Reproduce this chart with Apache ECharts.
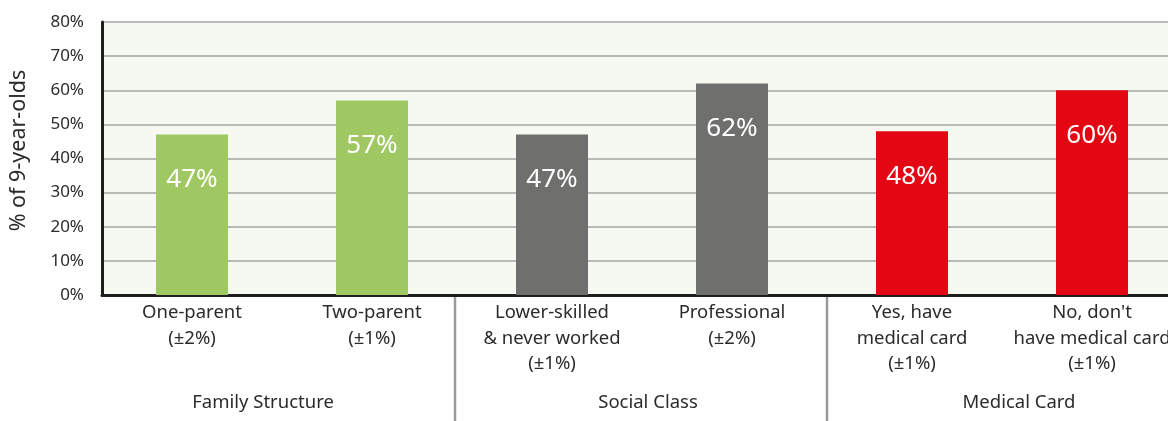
<!DOCTYPE html>
<html>
<head>
<meta charset="utf-8">
<script src="https://cdn.jsdelivr.net/npm/echarts@6/dist/echarts.min.js"></script>
<style>
  html, body { margin: 0; padding: 0; background: #fff; }
  #chart { width: 1168px; height: 421px; }
</style>
</head>
<body>
<div id="chart"></div>
<script>
// categories and values
const categories = [
  "One-parent\n(±2%)",
  "Two-parent\n(±1%)",
  "Lower-skilled\n& never worked\n(±1%)",
  "Professional\n(±2%)",
  "Yes, have\nmedical card\n(±1%)",
  "No, don't\nhave medical card\n(±1%)"
];
const values = [47, 57, 47, 62, 48, 60];
const barColors = ["#a0c862", "#a0c862", "#6f6f6e", "#6f6f6e", "#e30613", "#e30613"];
const groups = ["Family Structure", "Social Class", "Medical Card"];

const chart = echarts.init(document.getElementById("chart"));
const font = "'Noto Sans', sans-serif";
const txt = "#2b2b2b";

const option = {
  animation: false,
  textStyle: { fontFamily: font },
  grid: {
    left: 102, top: 22, width: 1080, bottom: 126,
    outerBoundsMode: "none",
    show: true, backgroundColor: "#f6f8f2", borderWidth: 0
  },
  xAxis: {
    type: "category",
    data: categories,
    axisLine: { lineStyle: { color: "#1e1e1e", width: 3 } },
    axisTick: { show: false },
    axisLabel: {
      interval: 0, margin: 5, color: txt, fontSize: 18.5,
      lineHeight: 25.5, fontFamily: font, verticalAlign: "top"
    }
  },
  yAxis: {
    type: "value",
    min: 0, max: 80, interval: 10,
    name: "% of 9-year-olds",
    nameLocation: "middle",
    nameGap: 72,
    nameTextStyle: { fontSize: 21.5, color: txt, fontFamily: font, padding: [0, 0, 0, 16] },
    axisLine: { show: true, lineStyle: { color: "#1e1e1e", width: 3 } },
    axisTick: { show: false },
    axisLabel: { formatter: "{value}%", margin: 18, fontSize: 17, color: txt, fontFamily: font },
    splitLine: { lineStyle: { color: "#a6a6a6", width: 1.5 } }
  },
  series: [{
    type: "bar",
    barWidth: 72,
    data: values.map((v, i) => ({ value: v, itemStyle: { color: barColors[i] } })),
    label: {
      show: true, position: "insideTop", distance: 32,
      formatter: "{c}%", color: "#fff", fontSize: 26, fontFamily: font
    }
  }],
  graphic: [
    { type: "line", shape: { x1: 455, y1: 297, x2: 455, y2: 421 }, style: { stroke: "#9a9a9a", lineWidth: 2.5 } },
    { type: "line", shape: { x1: 827, y1: 297, x2: 827, y2: 421 }, style: { stroke: "#9a9a9a", lineWidth: 2.5 } },
    { type: "text", x: 263, y: 403, style: { text: groups[0], fill: txt, font: "18.5px " + font, textAlign: "center", textVerticalAlign: "middle" } },
    { type: "text", x: 648, y: 403, style: { text: groups[1], fill: txt, font: "18.5px " + font, textAlign: "center", textVerticalAlign: "middle" } },
    { type: "text", x: 1019, y: 403, style: { text: groups[2], fill: txt, font: "18.5px " + font, textAlign: "center", textVerticalAlign: "middle" } }
  ]
};

chart.setOption(option);
</script>
</body>
</html>
